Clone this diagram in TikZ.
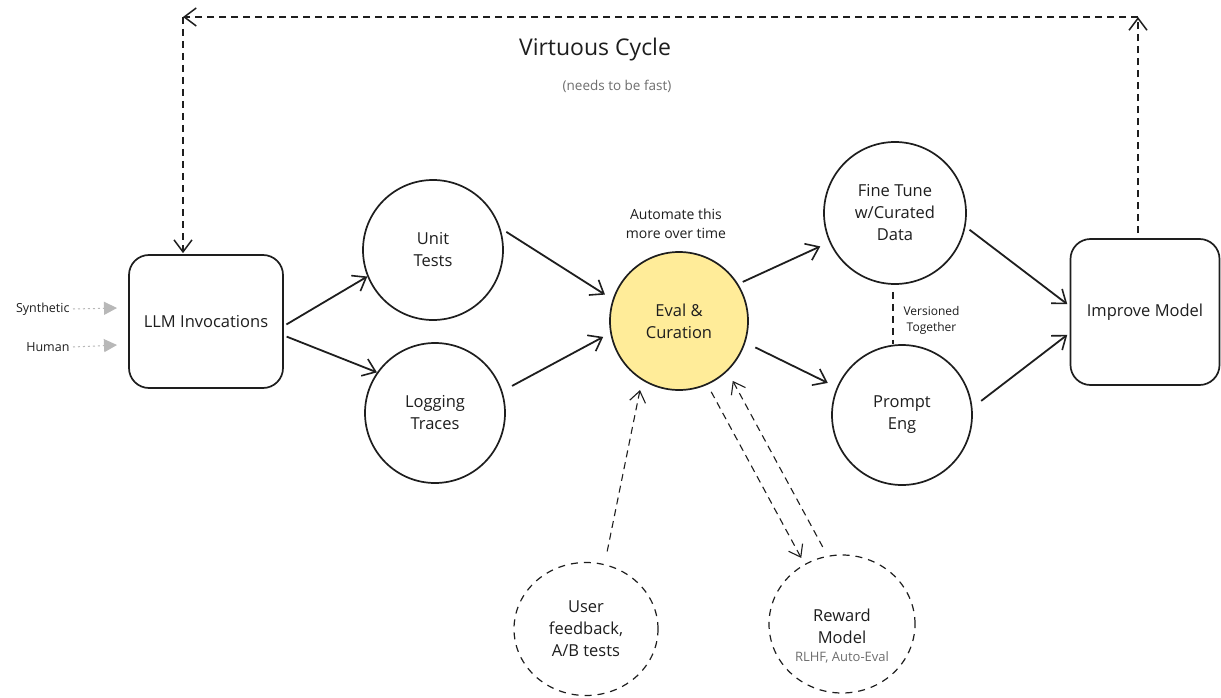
\documentclass[tikz,border=0pt]{standalone}
\usepackage{fontspec}
\setmainfont{Open Sans}
\usetikzlibrary{arrows.meta,shapes.geometric,calc}
\definecolor{ink}{HTML}{1E1E1E}
\definecolor{evalfill}{HTML}{FFEC99}
\definecolor{softgray}{HTML}{B8B8B8}
\definecolor{notegray}{HTML}{6E6E6E}

\begin{document}
\begin{tikzpicture}[x=1pt,y=-1pt,
  every node/.style={text=ink, align=center, font=\fontsize{16.5}{22}\selectfont},
  stage/.style={circle, draw=ink, line width=1.7pt, minimum size=140pt, inner sep=0pt},
  panel/.style={rectangle, rounded corners=20pt, draw=ink, line width=1.7pt, inner sep=0pt},
  source/.style={ellipse, draw=ink, line width=1.2pt, dash pattern=on 7pt off 6pt, inner sep=0pt},
  barb/.style={-{Straight Barb[length=12pt,width=18pt,line width=1.6pt]}},
  flow/.style={draw=ink, line width=1.8pt, barb},
  hint/.style={draw=ink, line width=1.1pt, dash pattern=on 7pt off 5pt,
    -{Straight Barb[length=11pt,width=16pt,line width=1.1pt]}},
  loop/.style={draw=ink, line width=1.5pt, dash pattern=on 7pt off 5pt,
    -{Straight Barb[length=12pt,width=18pt,line width=1.5pt]}},
  link/.style={draw=ink, line width=1.5pt, dash pattern=on 7pt off 5pt},
  feed/.style={draw=softgray, line width=1pt, dash pattern=on 2pt off 3pt,
    -{Triangle[length=13pt,width=13pt,fill=softgray]}},
  small/.style={font=\fontsize{12.5}{15}\selectfont},
]
% canvas
\fill[white] (0,0) rectangle (1221,698);
\useasboundingbox (0,0) rectangle (1221,698);

% heading
\node[font=\fontsize{23}{28}\selectfont] (title) at (595,50) {Virtuous Cycle};
\node[text=notegray, font=\fontsize{13.5}{16}\selectfont] (subtitle) at (617,86) {(needs to be fast)};

% main pipeline
\node[panel, minimum width=154pt, minimum height=133pt] (llm) at (206,321.5) {LLM Invocations};
\node[stage] (unit) at (433,250) {Unit\\Tests};
\node[stage] (logging) at (435,413) {Logging\\Traces};
\node[stage, fill=evalfill, minimum size=138pt] (eval) at (679,321) {Eval \&\\Curation};
\node[stage, minimum size=142pt] (fine) at (895,213) {Fine Tune\\w/Curated\\Data};
\node[stage] (prompt) at (902,415) {Prompt\\Eng};
\node[panel, minimum width=149pt, minimum height=146pt] (improve) at (1145,312) {Improve Model};

% feedback sources
\node[source, minimum width=144pt, minimum height=133pt] (user) at (586,629) {User\\feedback,\\A/B tests};
\node[source, minimum width=146pt, minimum height=138pt] (reward) at (842,624) {};
\node (rewardname) at (842,626) {Reward\\Model};
\node[font=\fontsize{13}{15}\selectfont, text=notegray] (rewardnote) at (842,657) {RLHF, Auto-Eval};

% notes
\node[font=\fontsize{14}{19}\selectfont] (autonote) at (676,224) {Automate this\\more over time};
\node[anchor=west, font=\fontsize{12}{16}\selectfont] (vnote) at (900,320) {Versioned\\Together};

% inputs on the left
\node[small, anchor=east] (synth) at (73,309) {Synthetic};
\node[small, anchor=east] (human) at (73,347) {Human};
\coordinate (synthin) at (117,308);
\coordinate (humanin) at (117,345);
\draw[feed] (synth.east) -- (synthin);
\draw[feed] (human.east) -- (humanin);

% solid flow arrows
\draw[flow, shorten <=3pt] ([yshift=-4.5pt]llm.east) -- (unit.202);
\draw[flow, shorten <=3pt] ([yshift=-14pt]llm.east) -- (logging.145);
\draw[flow, shorten <=7pt, shorten >=9pt] (unit.18) -- (eval.162);
\draw[flow, shorten <=11pt, shorten >=8pt] (logging.18) -- (eval.190);
\draw[flow, shorten <=5pt, shorten >=10pt] (eval.32) -- (fine.204);
\draw[flow, shorten <=11pt, shorten >=10pt] (eval.342) -- (prompt.157);
\draw[flow, shorten <=5pt, shorten >=3pt] (fine.349) -- ([yshift=6pt]improve.west);
\draw[flow, shorten <=11pt, shorten >=3pt] (prompt.6) -- ([yshift=-21pt]improve.west);

% fine tuning and prompts are versioned together
\draw[link, shorten <=7pt] ([xshift=-2pt]fine.south) -- ([xshift=-2pt]fine.south |- prompt.north);

% dashed feedback arrows
\draw[hint, shorten <=13pt, shorten >=10pt] (user.74) -- (eval.238);
\draw[hint, shorten <=8pt, shorten >=7pt] (eval.294) -- (reward.122);
\draw[hint, shorten <=10pt, shorten >=11pt] (reward.102) -- (eval.314);

% the virtuous cycle loop
\coordinate (tr) at (1138,17);
\coordinate (tl) at (183,17);
\draw[loop, shorten <=5pt] ([xshift=-7pt]improve.north) -- (tr);
\draw[loop] (tr) -- (tl);
\draw[loop, shorten >=1pt] (tl) -- ([xshift=-23pt]llm.north);
\end{tikzpicture}
\end{document}
